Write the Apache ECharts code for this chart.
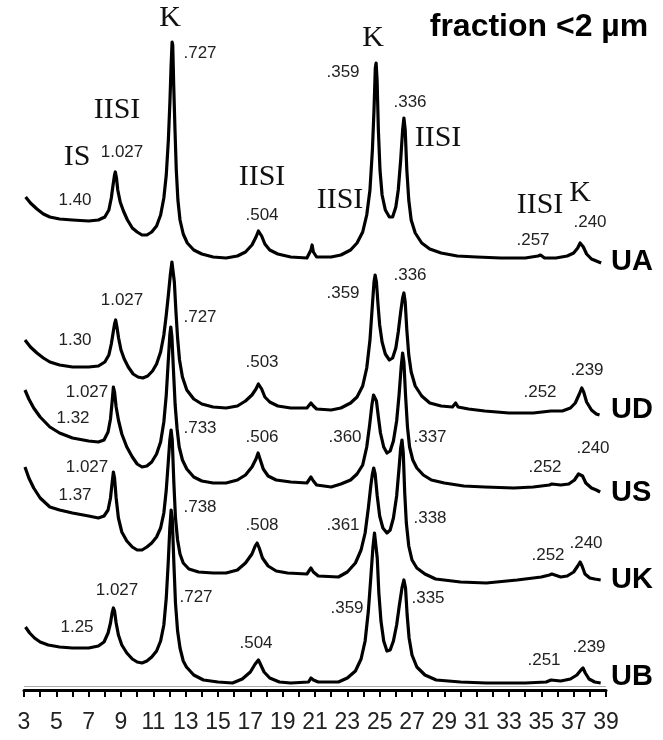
<!DOCTYPE html>
<html>
<head>
<meta charset="utf-8">
<script src="https://cdn.jsdelivr.net/npm/echarts@6/dist/echarts.min.js"></script>
<style>
  html, body { margin: 0; padding: 0; background: #fff; }
  #chart { width: 663px; height: 740px; }
</style>
</head>
<body>
<div id="chart"></div>
<script>
// X-ray diffractograms of the clay fraction: 2θ (°) against counts above each pattern's own baseline.
const ticks2Theta = [3, 5, 7, 9, 11, 13, 15, 17, 19, 21, 23, 25, 27, 29, 31, 33, 35, 37, 39];

const sampleNames = ['UA', 'UD', 'US', 'UK', 'UB'];
// vertical shift of each pattern in the stack
const stackOffsets = [432, 280, 203, 112, 7];

const patternUA = [[3.1,61],[3.4,55],[3.8,49],[4.2,44],[4.6,41],[5.2,39],[6,38],[7,37],[7.6,38],[8.0,41],[8.25,48],[8.4,60],[8.5,72],[8.6,83],[8.65,86],[8.72,80],[8.8,68],[8.95,56],[9.15,47],[9.4,38],[9.7,30],[10.0,26],[10.3,23],[10.6,23],[10.9,26],[11.2,32],[11.45,43],[11.65,60],[11.8,83],[11.93,118],[12.03,158],[12.1,193],[12.16,216],[12.2,213],[12.26,173],[12.34,128],[12.42,88],[12.52,58],[12.65,38],[12.85,24],[13.1,15],[13.5,8],[14,4],[14.7,1],[15.5,0],[16.2,2],[16.7,6],[17.1,13],[17.35,21],[17.5,27],[17.58,29],[17.7,22],[17.9,14],[18.2,8],[18.7,4],[19.5,1],[20.5,0],[20.75,8],[20.82,13],[20.9,6],[21.1,1],[22,1],[22.6,3],[23.2,8],[23.6,15],[23.95,26],[24.2,43],[24.4,68],[24.55,108],[24.65,148],[24.73,190],[24.78,195],[24.84,178],[24.92,128],[25.02,88],[25.15,63],[25.35,48],[25.6,41],[25.8,41],[26.0,51],[26.15,68],[26.3,98],[26.42,128],[26.5,140],[26.58,128],[26.68,88],[26.8,58],[26.95,38],[27.2,25],[27.6,15],[28.1,9],[28.8,5],[29.8,2],[31,1],[32.5,0],[34,0],[34.8,2],[34.95,3],[35.2,0],[35.9,0],[36.6,2],[37.0,5],[37.25,10],[37.4,15],[37.48,16],[37.6,11],[37.8,4],[38.1,-1],[38.4,-3],[38.7,-5]];

const patternUD = [[3.06,70],[3.4,63],[3.8,57],[4.2,52],[4.6,48],[5.2,45],[6,43],[7,43],[7.6,44],[8.0,48],[8.25,55],[8.4,66],[8.5,76],[8.6,86],[8.67,90],[8.75,83],[8.85,72],[9.0,60],[9.2,51],[9.45,43],[9.75,36],[10.05,33],[10.35,32],[10.65,34],[10.95,39],[11.2,46],[11.45,58],[11.65,75],[11.8,95],[11.93,115],[12.05,135],[12.15,148],[12.22,146],[12.3,128],[12.4,98],[12.5,72],[12.62,50],[12.8,33],[13.07,20],[13.5,11],[14.0,6],[14.7,3],[15.5,2],[16.2,4],[16.7,9],[17.1,15],[17.35,21],[17.5,26],[17.58,27],[17.7,21],[17.9,13],[18.2,8],[18.7,4],[19.5,2],[20.5,2],[20.75,7],[20.82,9],[20.9,4],[21.1,1],[22,0],[22.6,2],[23.2,7],[23.6,13],[23.95,24],[24.2,42],[24.4,70],[24.55,105],[24.65,128],[24.72,135],[24.8,128],[24.9,105],[25.0,85],[25.15,68],[25.35,56],[25.6,50],[25.8,52],[26.0,62],[26.15,78],[26.3,98],[26.42,112],[26.5,117],[26.58,108],[26.68,80],[26.8,55],[26.95,38],[27.2,24],[27.6,14],[28.1,7],[28.8,4],[29.5,3],[29.7,7],[29.85,3],[30.5,1],[31.5,-1],[33,-3],[34.5,-3],[35.6,-1],[36.3,-1],[36.8,2],[37.1,7],[37.35,16],[37.5,22],[37.62,18],[37.8,8],[38.1,0],[38.4,-4],[38.6,-5]];

const patternUS = [[3.06,97],[3.3,88],[3.6,79],[4.0,70],[4.6,60],[5.2,54],[6.0,49],[7.0,46],[7.6,45],[7.95,47],[8.2,55],[8.35,68],[8.45,85],[8.53,100],[8.6,95],[8.7,80],[8.84,67],[9.05,53],[9.36,40],[9.7,30],[10.0,23],[10.3,20],[10.6,21],[10.9,25],[11.2,33],[11.45,45],[11.65,65],[11.8,92],[11.92,125],[12.02,152],[12.08,160],[12.15,150],[12.25,115],[12.35,82],[12.47,58],[12.6,40],[12.8,27],[13.07,18],[13.5,10],[14.0,6],[14.7,4],[15.5,4],[16.2,7],[16.7,12],[17.1,20],[17.35,28],[17.48,34],[17.6,28],[17.8,18],[18.1,11],[18.6,7],[19.5,5],[20.5,4],[20.75,10],[20.82,12],[20.9,6],[21.1,2],[22,0],[22.6,3],[23.2,7],[23.6,13],[23.95,22],[24.2,40],[24.38,62],[24.52,82],[24.62,92],[24.7,94],[24.8,86],[24.92,70],[25.05,54],[25.25,40],[25.45,34],[25.65,36],[25.85,46],[26.05,66],[26.2,92],[26.33,120],[26.42,134],[26.5,125],[26.6,92],[26.72,60],[26.85,40],[27.05,27],[27.3,19],[27.7,12],[28.2,7],[29,4],[30.2,1],[31.5,0],[33.3,-1],[34.5,0],[35.5,2],[35.65,3],[36.2,2],[36.7,3],[37.05,7],[37.3,13],[37.42,15],[37.55,11],[37.75,4],[38.1,-1],[38.4,-3],[38.64,-5]];

const patternUK = [[3.06,111],[3.3,100],[3.6,90],[4.0,80],[4.6,71],[5.2,68],[6.0,65],[7.0,62],[7.6,60],[7.95,62],[8.2,68],[8.35,80],[8.45,95],[8.53,106],[8.6,100],[8.7,80],[8.84,60],[9.05,46],[9.36,37],[9.7,31],[10.0,28],[10.3,28],[10.6,31],[10.9,35],[11.2,41],[11.45,50],[11.65,65],[11.8,88],[11.92,115],[12.02,138],[12.1,148],[12.17,138],[12.27,95],[12.37,60],[12.5,38],[12.65,24],[12.85,15],[13.2,9],[13.8,6],[14.7,5],[15.5,5],[16.2,8],[16.7,15],[17.1,24],[17.3,32],[17.42,35],[17.55,30],[17.75,20],[18.1,12],[18.6,7],[19.3,5],[20.5,4],[20.75,10],[20.82,12],[20.9,6],[21.2,2],[22.45,1],[23.0,6],[23.5,15],[23.85,28],[24.1,45],[24.3,70],[24.45,92],[24.55,104],[24.63,110],[24.72,104],[24.85,82],[25.0,62],[25.2,50],[25.45,45],[25.65,48],[25.85,60],[26.05,82],[26.2,110],[26.3,130],[26.38,138],[26.46,125],[26.55,85],[26.65,55],[26.8,32],[27.0,18],[27.3,10],[27.8,4],[28.46,-1],[30,-4],[31.6,-5],[33.5,-2],[35.0,1],[35.5,3],[35.65,4],[36.2,1],[36.6,2],[37.0,6],[37.25,12],[37.4,16],[37.52,12],[37.7,4],[38.0,0],[38.3,-1],[38.67,-2]];

const patternUB = [[3.09,56],[3.35,50],[3.65,45],[4.0,41],[4.5,38],[5.2,36],[6.0,35],[7.0,35],[7.6,37],[7.95,41],[8.2,50],[8.35,60],[8.45,70],[8.53,75],[8.6,72],[8.7,60],[8.84,48],[9.05,38],[9.36,30],[9.7,24],[10.0,21],[10.3,20],[10.6,22],[10.9,26],[11.2,32],[11.45,42],[11.65,58],[11.8,85],[11.92,120],[12.02,155],[12.1,173],[12.17,165],[12.27,120],[12.37,80],[12.5,52],[12.65,35],[12.85,22],[13.05,16],[13.5,8],[14.1,3],[15.0,1],[15.9,0],[16.5,4],[17.0,11],[17.3,19],[17.5,23],[17.62,19],[17.85,11],[18.2,5],[18.8,1],[19.5,0],[20.6,1],[20.75,5],[20.82,7],[20.9,3],[21.2,1],[22.45,1],[23.0,5],[23.5,12],[23.85,24],[24.1,42],[24.3,72],[24.45,105],[24.58,135],[24.68,150],[24.76,148],[24.85,125],[24.95,90],[25.08,62],[25.25,42],[25.45,32],[25.65,33],[25.85,42],[26.05,58],[26.22,78],[26.38,95],[26.5,103],[26.6,95],[26.7,68],[26.82,45],[27.0,28],[27.3,16],[27.8,8],[28.5,3],[30,1],[31.6,0],[34,0],[35.3,1],[35.6,3],[36.2,2],[36.8,4],[37.2,8],[37.45,13],[37.58,15],[37.72,10],[37.95,4],[38.3,1],[38.67,0]];

const patterns = [patternUA, patternUD, patternUS, patternUK, patternUB];

// mineral and d-spacing (nm) annotations: [text, x, y]
const mineralLabels = [
  ['K', 170, 18], ['IISI', 117, 110], ['IS', 77, 157], ['IISI', 262, 177],
  ['IISI', 340, 200], ['K', 373, 38], ['IISI', 438, 138], ['IISI', 540, 205], ['K', 580, 193]
];
const spacingLabels = [
  ['1.40', 75, 200], ['1.027', 122, 152], ['.727', 200, 53], ['.504', 262, 215], ['.359', 343, 72], ['.336', 410, 102], ['.257', 533, 240], ['.240', 590, 222],
  ['1.027', 122, 300], ['1.30', 75, 340], ['.727', 200, 317], ['.503', 262, 362], ['.359', 343, 293], ['.336', 410, 275], ['.252', 540, 392], ['.239', 587, 370],
  ['1.027', 87, 392], ['1.32', 73, 418], ['.733', 200, 428], ['.506', 262, 437], ['.360', 345, 437], ['.337', 430, 437], ['.252', 545, 467], ['.240', 593, 448],
  ['1.027', 87, 467], ['1.37', 75, 495], ['.738', 200, 507], ['.508', 262, 525], ['.361', 343, 525], ['.338', 430, 518], ['.252', 548, 555], ['.240', 586, 543],
  ['1.027', 117, 590], ['1.25', 77, 627], ['.727', 196, 597], ['.504', 256, 643], ['.359', 347, 608], ['.335', 428, 598], ['.251', 544, 660], ['.239', 589, 647]
];
const sampleLabelY = [262, 410, 493, 580, 677];

const chart = echarts.init(document.getElementById('chart'), null, { renderer: 'canvas' });

const series = patterns.map((pts, i) => ({
  name: sampleNames[i],
  type: 'line',
  showSymbol: false,
  smooth: false,
  z: 5 - i,
  lineStyle: { color: '#000', width: 3.2, join: 'round' },
  data: pts.map(p => [p[0], p[1] + stackOffsets[i]])
}));

const graphic = [];
mineralLabels.forEach(([t, x, y]) => graphic.push({
  type: 'text', x, y, z: 20,
  style: { text: t, font: '30px "Liberation Serif", "DejaVu Serif", serif', fill: '#111', align: 'center', verticalAlign: 'middle' }
}));
spacingLabels.forEach(([t, x, y]) => graphic.push({
  type: 'text', x, y, z: 20,
  style: { text: t, font: '17px "Liberation Sans", Arial, sans-serif', fill: '#222', align: 'center', verticalAlign: 'middle' }
}));
sampleNames.forEach((t, i) => graphic.push({
  type: 'text', x: 611, y: sampleLabelY[i], z: 20,
  style: { text: t, font: 'bold 29px "Liberation Sans", Arial, sans-serif', fill: '#000', align: 'left', verticalAlign: 'middle' }
}));
graphic.push({
  type: 'text', x: 539, y: 27, z: 20,
  style: { text: 'fraction <2 µm', font: 'bold 32px "Liberation Sans", Arial, sans-serif', fill: '#000', align: 'center', verticalAlign: 'middle' }
});
// faint rule drawn just above the axis line
graphic.push({
  type: 'line', z: 1, silent: true,
  shape: { x1: 24, y1: 686.5, x2: 606, y2: 686.5 },
  style: { stroke: '#aaa', lineWidth: 1 }
});

chart.setOption({
  animation: false,
  backgroundColor: '#fff',
  grid: { left: 24, right: 57, top: 0, bottom: 50 },
  xAxis: {
    type: 'value', min: ticks2Theta[0], max: ticks2Theta[ticks2Theta.length - 1], interval: 1,
    axisLine: { show: true, lineStyle: { color: '#000', width: 3 } },
    axisTick: { show: true, inside: false, length: 7, lineStyle: { color: '#000', width: 2 } },
    axisLabel: {
      margin: 21, color: '#222', fontSize: 23, fontFamily: '"Liberation Sans", Arial, sans-serif',
      formatter: v => (ticks2Theta.indexOf(v) >= 0 ? String(v) : '')
    },
    splitLine: { show: false }
  },
  yAxis: { type: 'value', min: 0, max: 690, show: false, splitLine: { show: false } },
  series,
  graphic
});
</script>
</body>
</html>
